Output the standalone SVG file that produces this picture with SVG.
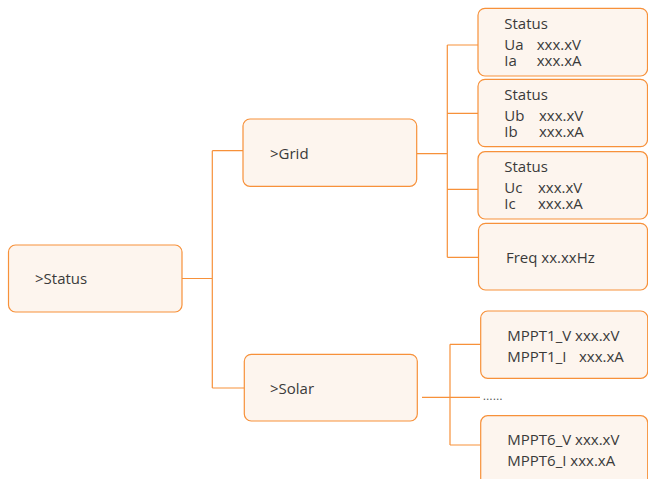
<svg xmlns="http://www.w3.org/2000/svg" width="648" height="479" viewBox="0 0 648 479">
<style>
.box{fill:#FDF5EE;stroke:#F7913A;stroke-width:1.2}
.t{font-family:"Open Sans","Noto Sans",sans-serif;font-size:15px;fill:#3a3a3a}
.ln{fill:none;stroke:#F7913A;stroke-width:1.2}
</style>
<rect width="648" height="479" fill="#FFFFFF"/>
<g id="connectors">
<path class="ln" d="M182 278.5H212.3M212.3 150.7V388M212.3 150.7H243M212.3 388H244.3"/>
<path class="ln" d="M417 153.7H447.3M447.3 45V257.3M447.3 45H478M447.3 113.3H478M447.3 189.3H478M447.3 257.3H478"/>
<path class="ln" d="M422 397.3H480M450 344.3V445M450 344.3H480.7M450 445H480.7"/>
</g>
<g id="n-status">
<rect class="box" x="8.5" y="245" width="173.5" height="67" rx="7"/>
<text class="t" x="35" y="284">&gt;Status</text>
</g>
<g id="n-grid">
<rect class="box" x="243" y="119" width="173.7" height="67.3" rx="7"/>
<text class="t" x="270" y="159">&gt;Grid</text>
</g>
<g id="n-solar">
<rect class="box" x="244.3" y="354.3" width="173" height="66.7" rx="7"/>
<text class="t" x="270" y="394">&gt;Solar</text>
</g>
<g id="n-ua">
<rect class="box" x="478" y="8.3" width="169.5" height="67.7" rx="7"/>
<text class="t" x="504.3" y="28.7">Status</text>
<text class="t" x="504.3" y="50">Ua</text>
<text class="t" x="536.7" y="50">xxx.xV</text>
<text class="t" x="504.3" y="65.5">Ia</text>
<text class="t" x="536.7" y="65.5">xxx.xA</text>
</g>
<g id="n-ub">
<rect class="box" x="478" y="79.3" width="169.5" height="67.4" rx="7"/>
<text class="t" x="504.3" y="100">Status</text>
<text class="t" x="504.3" y="121">Ub</text>
<text class="t" x="539" y="121">xxx.xV</text>
<text class="t" x="504.3" y="136.7">Ib</text>
<text class="t" x="539" y="136.7">xxx.xA</text>
</g>
<g id="n-uc">
<rect class="box" x="478" y="151.7" width="169.5" height="67.3" rx="7"/>
<text class="t" x="504.3" y="171.7">Status</text>
<text class="t" x="504.3" y="193.3">Uc</text>
<text class="t" x="538" y="193.3">xxx.xV</text>
<text class="t" x="504.3" y="209">Ic</text>
<text class="t" x="538" y="209">xxx.xA</text>
</g>
<g id="n-freq">
<rect class="box" x="478.5" y="223.3" width="169" height="66.7" rx="7"/>
<text class="t" x="506" y="262.7">Freq xx.xxHz</text>
</g>
<g id="n-mppt1">
<rect class="box" x="480.7" y="311" width="167" height="67.3" rx="7"/>
<text class="t" x="507.3" y="340.7">MPPT1_V xxx.xV</text>
<text class="t" x="507.3" y="362.3">MPPT1_I</text>
<text class="t" x="579" y="362.3">xxx.xA</text>
</g>
<text x="482.7" y="400" style="font-family:'Liberation Sans',sans-serif;font-size:12px;fill:#555555">......</text>
<g id="n-mppt6">
<rect class="box" x="480.7" y="415.7" width="167" height="70" rx="7"/>
<text class="t" x="507.3" y="445">MPPT6_V xxx.xV</text>
<text class="t" x="507.3" y="465.7">MPPT6_I xxx.xA</text>
</g>
</svg>
